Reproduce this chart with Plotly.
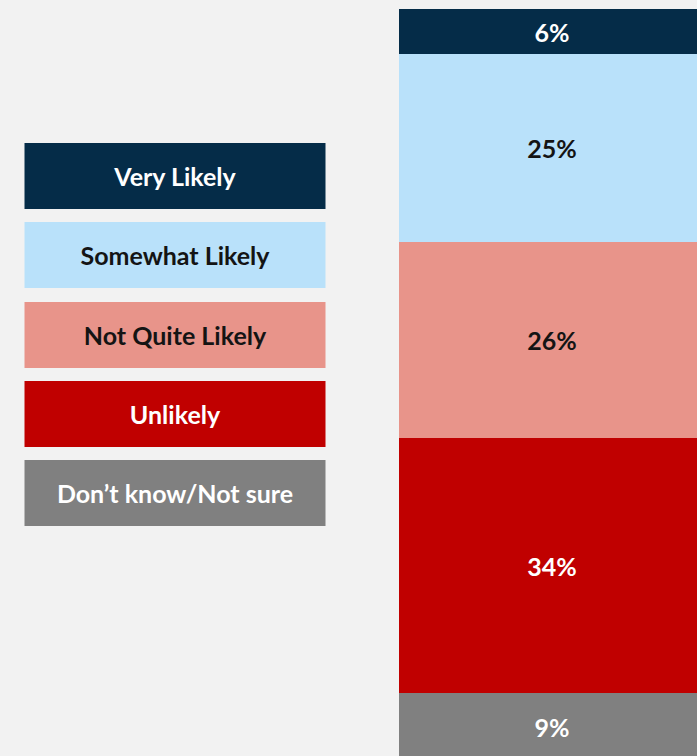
import plotly.graph_objects as go

categories = ["Very Likely", "Somewhat Likely", "Not Quite Likely", "Unlikely", "Don’t know/Not sure"]
values = [6, 25, 26, 34, 9]
colors = ["#052c48", "#b9e1fa", "#e8948a", "#c00000", "#808080"]
text_colors = ["#ffffff", "#141414", "#141414", "#ffffff", "#ffffff"]

W, H = 697, 756
TOP = 9
FONT = "Lato"

fig = go.Figure()
# stack from bottom: last category first
for cat, val, col, tcol in reversed(list(zip(categories, values, colors, text_colors))):
    fig.add_trace(go.Bar(
        x=[0], y=[val], name=cat, width=1,
        marker=dict(color=col, line=dict(width=0)),
        text=[f"{val}%"], textposition="inside", insidetextanchor="middle",
        textangle=0, constraintext="none",
        textfont=dict(family=FONT, size=25, color=tcol, weight="bold"),
        hoverinfo="skip", showlegend=False,
    ))

# legend boxes (pixel layout -> paper coords)
box_x0, box_x1 = 24.5, 325.5
box_tops = [143, 222, 302, 381, 460]
box_h = 66
plot_h = H - TOP
for cat, col, tcol, top in zip(categories, colors, text_colors, box_tops):
    fig.add_shape(
        type="rect", xref="paper", yref="paper",
        x0=box_x0 / W, x1=box_x1 / W,
        y0=(H - (top + box_h)) / plot_h, y1=(H - top) / plot_h,
        fillcolor=col, line=dict(width=0), layer="above",
        label=dict(text=f"<b>{cat}</b>", textposition="middle center",
                   font=dict(family=FONT, size=25, color=tcol)),
    )

# x range so bar spans px 399 .. ~705
px_per_unit = 306.0
a = -0.5 - 399 / px_per_unit
b = a + W / px_per_unit
# y range: bar bottom slightly below visible window
px_per_pct = 7.52
y_lo = (H - TOP) / px_per_pct
fig.update_layout(
    width=W, height=H,
    margin=dict(l=0, r=0, t=TOP, b=0, pad=0),
    paper_bgcolor="#f2f2f2", plot_bgcolor="#f2f2f2",
    barmode="stack", bargap=0,
    xaxis=dict(range=[a, b], visible=False, fixedrange=True),
    yaxis=dict(range=[100 - y_lo, 100], visible=False, fixedrange=True),
    font=dict(family=FONT),
)

fig.write_html(
    "out.html",
    config={"displayModeBar": False},
    post_script="document.body.style.margin='0';document.body.style.padding='0';"
                "document.body.style.background='#f2f2f2';"
                "document.body.style.overflow='hidden';",
)
